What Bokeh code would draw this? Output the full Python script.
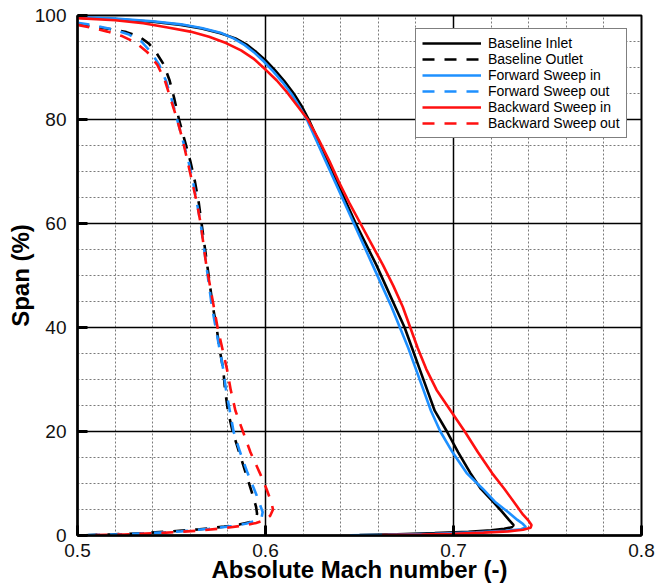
from bokeh.plotting import figure
from bokeh.models import Range1d, SingleIntervalTicker, Legend
from bokeh.embed import file_html
from bokeh.resources import INLINE

# Spanwise absolute Mach number profiles, inlet (solid) and outlet (dashed)
base_in_x = [0.500, 0.520, 0.540, 0.555, 0.566, 0.576, 0.584, 0.590, 0.595, 0.600,
             0.605, 0.610, 0.615, 0.6195, 0.623, 0.628, 0.633, 0.638, 0.643, 0.648,
             0.6535, 0.659, 0.664, 0.669, 0.674, 0.678, 0.682, 0.686, 0.690, 0.6965,
             0.7025, 0.709, 0.7145, 0.721, 0.726, 0.7295, 0.732, 0.731, 0.727, 0.720,
             0.708, 0.690, 0.670, 0.650]
base_in_y = [99.6, 99.3, 98.8, 98.2, 97.5, 96.6, 95.6, 94.4, 93.0, 91.4,
             89.5, 87.4, 85.0, 82.4, 80.0, 76.0, 72.0, 68.0, 64.0, 60.0,
             56.0, 52.0, 48.0, 44.0, 40.0, 36.0, 32.0, 28.0, 24.0, 20.0,
             16.0, 12.0, 9.0, 6.5, 4.5, 3.0, 2.0, 1.6, 1.3, 1.0,
             0.7, 0.45, 0.25, 0.1]

fwd_in_x = [0.500, 0.520, 0.540, 0.555, 0.566, 0.576, 0.583, 0.589, 0.594, 0.599,
            0.604, 0.609, 0.614, 0.6185, 0.622, 0.627, 0.632, 0.637, 0.642, 0.647,
            0.652, 0.657, 0.662, 0.667, 0.6715, 0.676, 0.680, 0.684, 0.688, 0.693,
            0.6995, 0.707, 0.7155, 0.722, 0.729, 0.734, 0.737, 0.7385, 0.736, 0.728,
            0.712, 0.690, 0.665, 0.645]
fwd_in_y = [99.7, 99.4, 98.9, 98.3, 97.6, 96.7, 95.6, 94.3, 92.9, 91.2,
            89.3, 87.2, 84.8, 82.2, 80.0, 76.0, 72.0, 68.0, 64.0, 60.0,
            56.0, 52.0, 48.0, 44.0, 40.0, 36.0, 32.0, 28.0, 24.0, 20.0,
            16.0, 12.0, 9.0, 6.5, 4.5, 3.0, 2.2, 1.6, 1.2, 0.9,
            0.6, 0.35, 0.15, 0.05]

bwd_in_x = [0.500, 0.520, 0.535, 0.548, 0.560, 0.570, 0.579, 0.587, 0.594, 0.600,
            0.606, 0.6115, 0.617, 0.6225, 0.6285, 0.634, 0.639, 0.6445, 0.6505, 0.6565,
            0.6625, 0.668, 0.673, 0.677, 0.681, 0.6855, 0.691, 0.6985, 0.706, 0.713,
            0.7205, 0.727, 0.733, 0.737, 0.740, 0.7415, 0.741, 0.737, 0.729, 0.716,
            0.700, 0.683, 0.662]
bwd_in_y = [99.5, 99.1, 98.5, 97.7, 96.9, 95.9, 94.7, 93.3, 91.6, 89.6,
            87.5, 85.2, 82.6, 80.0, 76.0, 72.0, 68.0, 64.0, 60.0, 56.0,
            52.0, 48.0, 44.0, 40.0, 36.0, 32.0, 28.0, 24.0, 20.0, 16.0,
            12.0, 9.0, 6.0, 4.0, 2.8, 2.0, 1.5, 1.1, 0.8, 0.55,
            0.35, 0.2, 0.08]

base_out_x = [0.500, 0.508, 0.517, 0.526, 0.533, 0.538, 0.542, 0.546, 0.549, 0.5515,
              0.554, 0.557, 0.560, 0.5625, 0.5645, 0.566, 0.5675, 0.569, 0.5705, 0.572,
              0.574, 0.5755, 0.5775, 0.5785, 0.580, 0.5825, 0.586, 0.5895, 0.593, 0.595,
              0.5955, 0.595, 0.592, 0.586, 0.578, 0.565, 0.550, 0.535, 0.518, 0.500]
base_out_y = [98.3, 97.9, 97.4, 96.8, 95.9, 94.6, 92.8, 90.5, 87.5, 84.0,
              80.0, 76.0, 72.0, 68.0, 64.0, 60.0, 56.0, 52.0, 48.0, 44.0,
              40.0, 36.0, 32.0, 28.0, 24.0, 20.0, 16.0, 12.0, 8.0, 5.5,
              4.2, 3.3, 2.6, 2.1, 1.7, 1.2, 0.8, 0.45, 0.2, 0.0]

fwd_out_x = [0.500, 0.509, 0.518, 0.527, 0.534, 0.539, 0.5435, 0.547, 0.550, 0.553,
             0.556, 0.559, 0.5615, 0.5635, 0.5655, 0.567, 0.5685, 0.570, 0.5715, 0.5735,
             0.5755, 0.5775, 0.579, 0.581, 0.583, 0.5865, 0.5905, 0.595, 0.597, 0.5985,
             0.598, 0.5955, 0.590, 0.582, 0.570, 0.555, 0.538, 0.520, 0.500]
fwd_out_y = [98.6, 98.1, 97.4, 96.4, 95.0, 93.0, 90.5, 87.5, 84.0, 80.0,
             76.0, 72.0, 68.0, 64.0, 60.0, 56.0, 52.0, 48.0, 44.0, 40.0,
             36.0, 32.0, 28.0, 24.0, 20.0, 16.0, 12.0, 8.0, 6.0, 4.5,
             3.6, 2.9, 2.3, 1.8, 1.3, 0.8, 0.45, 0.2, 0.05]

bwd_out_x = [0.500, 0.508, 0.516, 0.524, 0.531, 0.537, 0.5425, 0.5465, 0.5495, 0.553,
             0.556, 0.5585, 0.561, 0.5635, 0.5655, 0.567, 0.5685, 0.5705, 0.5725, 0.5745,
             0.577, 0.5795, 0.5815, 0.584, 0.588, 0.592, 0.597, 0.6005, 0.603, 0.604,
             0.6025, 0.600, 0.595, 0.588, 0.578, 0.563, 0.545, 0.525, 0.500]
bwd_out_y = [98.2, 97.6, 96.9, 96.0, 94.8, 93.0, 90.5, 87.5, 84.0, 80.0,
             76.0, 72.0, 68.0, 64.0, 60.0, 56.0, 52.0, 48.0, 44.0, 40.0,
             36.0, 32.0, 28.0, 24.0, 20.0, 16.0, 12.0, 9.0, 6.5, 5.0,
             3.8, 3.0, 2.4, 1.9, 1.4, 0.9, 0.5, 0.2, 0.0]

series_labels = ["Baseline Inlet", "Baseline Outlet", "Forward Sweep in",
                 "Forward Sweep out", "Backward Sweep in", "Backward Sweep out"]
x_ticks = [0.5, 0.6, 0.7, 0.8]
y_ticks = [0, 20, 40, 60, 80, 100]

BLACK = "#000000"
BLUE = "#1E90FF"
RED = "#FF1010"
FONT = "Liberation Sans"

p = figure(width=669, height=585, output_backend="svg", toolbar_location=None,
           x_range=Range1d(0.5, 0.8), y_range=Range1d(0, 100),
           min_border_left=77, min_border_right=28, min_border_top=15,
           min_border_bottom=50)
p.background_fill_color = "white"
p.border_fill_color = "white"
p.outline_line_color = "black"
p.outline_line_width = 2

lw = 2.6
dash = "12 10"
r1 = p.line(base_in_x, base_in_y, line_color=BLACK, line_width=lw)
r2 = p.line(base_out_x, base_out_y, line_color=BLACK, line_width=lw, line_dash=dash)
r3 = p.line(fwd_in_x, fwd_in_y, line_color=BLUE, line_width=lw)
r4 = p.line(fwd_out_x, fwd_out_y, line_color=BLUE, line_width=lw, line_dash=dash)
r5 = p.line(bwd_in_x, bwd_in_y, line_color=RED, line_width=lw)
r6 = p.line(bwd_out_x, bwd_out_y, line_color=RED, line_width=lw, line_dash=dash)

# axes and ticks
p.xaxis.ticker = SingleIntervalTicker(interval=0.1, num_minor_ticks=5)
p.yaxis.ticker = SingleIntervalTicker(interval=20, num_minor_ticks=4)
p.xaxis.major_label_overrides = {v: str(v) for v in x_ticks}
for ax in (p.xaxis[0], p.yaxis[0]):
    ax.axis_line_width = 2.5
    ax.axis_line_color = "black"
    ax.major_tick_in = 10
    ax.major_tick_out = 0
    ax.major_tick_line_width = 3
    ax.major_tick_line_color = "black"
    ax.minor_tick_line_color = None
    ax.major_label_text_font = FONT
    ax.major_label_text_font_size = "19px"
    ax.major_label_text_color = "#111111"
    ax.axis_label_text_font = FONT
    ax.axis_label_text_font_size = "24px"
    ax.axis_label_text_font_style = "bold"
    ax.axis_label_text_color = "black"
p.xaxis.axis_label = "Absolute Mach number (-)"
p.yaxis.axis_label = "Span (%)"
p.xaxis.major_label_standoff = 4
p.yaxis.major_label_standoff = 7
p.xaxis.axis_label_standoff = -4
p.yaxis.axis_label_standoff = -2

# grid: solid major lines, dotted minor lines
for g in (p.xgrid[0], p.ygrid[0]):
    g.grid_line_color = "black"
    g.grid_line_width = 1.5
    g.minor_grid_line_color = "#7a7a7a"
    g.minor_grid_line_width = 1
    g.minor_grid_line_dash = "2 2"

legend = Legend(items=[(lab, [r]) for lab, r in zip(series_labels, [r1, r2, r3, r4, r5, r6])],
                location=(338, 397))
legend.label_text_font = FONT
legend.label_text_font_size = "14px"
legend.label_text_color = "black"
legend.glyph_width = 59
legend.glyph_height = 14
legend.label_height = 14
legend.label_standoff = 7
legend.spacing = 0
legend.padding = 6
legend.margin = 0
legend.border_line_color = "black"
legend.border_line_width = 1.5
legend.background_fill_color = "white"
legend.background_fill_alpha = 1.0
p.add_layout(legend)

open("out.html", "w").write(file_html(p, INLINE))
